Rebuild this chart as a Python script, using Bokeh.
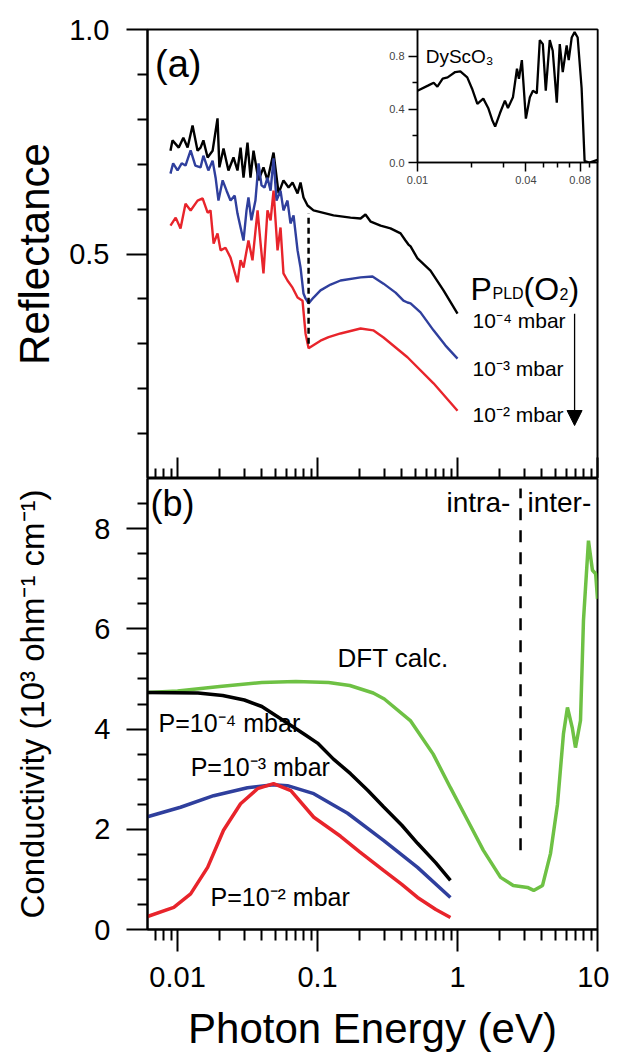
from bokeh.plotting import figure
from bokeh.layouts import column
from bokeh.models import Range1d, FixedTicker, Arrow, NormalHead
from bokeh.core.properties import value
from bokeh.embed import file_html
from bokeh.resources import INLINE

FONT = "Liberation Sans"

# ---------------- data: panel (a) reflectance ----------------
refl_black_e = [0.0089, 0.0092, 0.0102, 0.0110, 0.0118, 0.0128, 0.0139, 0.0146, 0.0153, 0.0164,
                0.0178, 0.0193, 0.0199, 0.0213, 0.0231, 0.0251, 0.0268, 0.0282, 0.0296, 0.0316,
                0.0332, 0.0349, 0.0379, 0.0411, 0.0439, 0.0485, 0.0527, 0.0571, 0.0621, 0.0663,
                0.0720, 0.0756, 0.0794, 0.0849, 0.0936, 0.130, 0.172, 0.203, 0.22, 0.24,
                0.282, 0.332, 0.392, 0.425, 0.446, 0.462, 0.518, 0.641, 0.794, 1.0]
refl_black = [0.730, 0.753, 0.737, 0.759, 0.737, 0.786, 0.730, 0.737, 0.753, 0.715,
              0.730, 0.802, 0.693, 0.735, 0.686, 0.715, 0.686, 0.737, 0.670, 0.748,
              0.670, 0.730, 0.664, 0.693, 0.664, 0.726, 0.635, 0.664, 0.648, 0.659,
              0.635, 0.659, 0.626, 0.608, 0.597, 0.586, 0.581, 0.579, 0.588, 0.572,
              0.563, 0.557, 0.546, 0.530, 0.521, 0.517, 0.490, 0.463, 0.419, 0.367]

refl_blue_e = [0.0089, 0.0093, 0.0100, 0.0107, 0.0114, 0.0124, 0.0134, 0.0146, 0.0153, 0.0166,
               0.0178, 0.0187, 0.0196, 0.0210, 0.0224, 0.0239, 0.0256, 0.0268, 0.0282, 0.0296,
               0.0311, 0.0321, 0.0337, 0.0360, 0.0379, 0.0398, 0.0418, 0.0439, 0.0462, 0.0485,
               0.0509, 0.0544, 0.0571, 0.0610, 0.0641, 0.0674, 0.0720, 0.0756, 0.0794, 0.0821,
               0.0863, 0.0936, 0.105, 0.124, 0.146, 0.203, 0.247, 0.296, 0.361, 0.411,
               0.439, 0.462, 0.544, 0.674, 0.821, 1.0]
refl_blue = [0.679, 0.702, 0.686, 0.702, 0.697, 0.731, 0.697, 0.693, 0.719, 0.686,
             0.708, 0.670, 0.619, 0.664, 0.641, 0.619, 0.630, 0.590, 0.559, 0.530,
             0.597, 0.626, 0.575, 0.619, 0.702, 0.653, 0.648, 0.670, 0.641, 0.713,
             0.619, 0.641, 0.597, 0.619, 0.568, 0.586, 0.508, 0.470, 0.412, 0.401,
             0.390, 0.403, 0.419, 0.432, 0.441, 0.448, 0.450, 0.434, 0.414, 0.396,
             0.392, 0.390, 0.370, 0.330, 0.296, 0.267]

refl_red_e = [0.0089, 0.0097, 0.0105, 0.0114, 0.0124, 0.0139, 0.0151, 0.0164, 0.0172, 0.0181,
              0.0193, 0.0203, 0.0220, 0.0239, 0.0268, 0.0282, 0.0296, 0.0321, 0.0343, 0.0373,
              0.0392, 0.0411, 0.0439, 0.0462, 0.0485, 0.0518, 0.0544, 0.0571, 0.0610, 0.0663,
              0.0720, 0.0781, 0.0821, 0.0863, 0.105, 0.12, 0.146, 0.203, 0.25, 0.296,
              0.439, 0.674, 1.0]
refl_red = [0.563, 0.581, 0.557, 0.612, 0.597, 0.619, 0.624, 0.592, 0.597, 0.523,
            0.546, 0.508, 0.514, 0.492, 0.437, 0.486, 0.470, 0.530, 0.486, 0.597,
            0.523, 0.457, 0.597, 0.575, 0.641, 0.508, 0.559, 0.457, 0.441, 0.425,
            0.403, 0.396, 0.323, 0.290, 0.307, 0.315, 0.323, 0.334, 0.330, 0.314,
            0.270, 0.212, 0.151]

# ---------------- data: inset DyScO3 ----------------
dy_e = [0.0100, 0.0115, 0.0123, 0.0129, 0.0138, 0.0147, 0.0162, 0.0173, 0.0189, 0.0201,
        0.0215, 0.0232, 0.0247, 0.0260, 0.0270, 0.0287, 0.0306, 0.0318, 0.0339, 0.0357,
        0.0366, 0.0380, 0.0400, 0.0421, 0.0438, 0.0460, 0.0478, 0.0497, 0.0516, 0.0543,
        0.0564, 0.0594, 0.0617, 0.0641, 0.0674, 0.0692, 0.0719, 0.0746, 0.0776, 0.0816,
        0.0848, 0.0903, 0.1000]
dy_r = [0.54, 0.58, 0.60, 0.57, 0.63, 0.64, 0.68, 0.685, 0.64, 0.555,
        0.44, 0.48, 0.41, 0.32, 0.27, 0.37, 0.465, 0.41, 0.49, 0.705,
        0.63, 0.77, 0.33, 0.49, 0.54, 0.52, 0.92, 0.89, 0.54, 0.92,
        0.84, 0.45, 0.89, 0.68, 0.88, 0.77, 0.94, 0.98, 0.94, 0.56,
        0.01, 0.0, 0.02]

# ---------------- data: panel (b) conductivity ----------------
dft_e = [0.0061, 0.01, 0.02, 0.04, 0.07, 0.12, 0.17, 0.25, 0.30, 0.46,
         0.67, 0.89, 1.18, 1.53, 2.03, 2.5, 3.16, 3.5, 4.05, 4.62,
         5.18, 5.71, 6.1, 6.6, 6.96, 7.56, 7.94, 8.62, 9.2, 9.7, 10.0]
dft_s = [4.73, 4.76, 4.85, 4.93, 4.95, 4.93, 4.87, 4.72, 4.60, 4.17,
         3.50, 2.83, 2.18, 1.58, 1.04, 0.88, 0.84, 0.78, 0.88, 1.52,
         2.50, 3.90, 4.43, 4.03, 3.63, 4.17, 6.17, 7.76, 7.17, 7.10, 6.60]

s4_e = [0.0061, 0.014, 0.021, 0.03, 0.04, 0.057, 0.08, 0.1, 0.13, 0.172,
        0.228, 0.296, 0.4, 0.518, 0.7, 0.89]
s4 = [4.73, 4.72, 4.67, 4.58, 4.45, 4.17, 3.90, 3.72, 3.40, 3.11,
      2.78, 2.45, 2.08, 1.72, 1.33, 0.98]

s3_e = [0.0061, 0.0105, 0.0181, 0.0316, 0.0485, 0.061, 0.094, 0.164, 0.296, 0.518, 0.89]
s3 = [2.25, 2.44, 2.67, 2.83, 2.89, 2.87, 2.71, 2.32, 1.78, 1.24, 0.64]

s2_e = [0.0061, 0.0094, 0.0124, 0.0164, 0.0213, 0.0282, 0.0373, 0.0485, 0.0645, 0.094,
        0.146, 0.2, 0.296, 0.4, 0.518, 0.7, 0.89]
s2 = [0.26, 0.44, 0.71, 1.24, 1.98, 2.51, 2.81, 2.91, 2.77, 2.24,
      1.86, 1.55, 1.18, 0.90, 0.64, 0.40, 0.24]

# ticks
x_major = [0.01, 0.1, 1, 10]
x_minor = [0.007, 0.008, 0.009,
           0.02, 0.03, 0.04, 0.05, 0.06, 0.07, 0.08, 0.09,
           0.2, 0.3, 0.4, 0.5, 0.6, 0.7, 0.8, 0.9,
           2, 3, 4, 5, 6, 7, 8, 9]
x_labels = {0.01: "0.01", 0.1: "0.1", 1: "1", 10: "10"}

BLACK = "#000000"
BLUE = "#2f3f9d"
RED = "#e8242b"
GREEN = "#6ec144"

LEFT = 147
x_range = Range1d(0.0061, 10)

common = dict(output_backend="svg", toolbar_location=None, x_axis_type="log",
              x_range=x_range, frame_width=450, min_border_left=LEFT, min_border_right=12)


def style_axis(ax, tick_out=21, minor_out=10, tick_in=0, minor_in=0):
    ax.axis_line_width = 2
    ax.axis_line_color = "black"
    ax.major_tick_line_width = 2
    ax.minor_tick_line_width = 2
    ax.major_tick_out = tick_out
    ax.major_tick_in = tick_in
    ax.minor_tick_out = minor_out
    ax.minor_tick_in = minor_in
    ax.major_label_text_font = FONT
    ax.major_label_text_font_size = "29px"
    ax.major_label_text_color = "black"
    ax.axis_label_text_font = FONT
    ax.axis_label_text_font_style = "normal"
    ax.axis_label_text_font_size = "42px"
    ax.axis_label_text_color = "black"


# ---------------- top panel ----------------
top = figure(y_range=Range1d(0, 1.0), frame_height=449, min_border_top=29,
             min_border_bottom=0, **common)
top.grid.visible = False
top.outline_line_color = "black"
top.outline_line_width = 2

xa = top.xaxis[0]
style_axis(xa, tick_out=0, minor_out=0, tick_in=21, minor_in=10)
xa.ticker = FixedTicker(ticks=x_major, minor_ticks=x_minor)
xa.major_label_text_font_size = "1px"
xa.major_label_text_alpha = 0
xa.major_label_standoff = 0

ya = top.yaxis[0]
style_axis(ya)
ya.ticker = FixedTicker(ticks=[0.5, 1.0], minor_ticks=[0.1, 0.2, 0.3, 0.4, 0.6, 0.7, 0.8, 0.9])
ya.major_label_overrides = {0.5: "0.5", 1: "1.0"}
ya.major_label_standoff = 17
ya.axis_label = "Reflectance"
ya.axis_label_standoff = 8

top.line(refl_black_e, refl_black, line_color=BLACK, line_width=2.4)
top.line(refl_blue_e, refl_blue, line_color=BLUE, line_width=2.4)
top.line(refl_red_e, refl_red, line_color=RED, line_width=2.4)
top.segment(x0=[0.0863], y0=[0.30], x1=[0.0863], y1=[0.59], line_color="black",
            line_width=2.5, line_dash="6 4")

top.text(x=[0.0069], y=[0.924], text=["(a)"], text_font=value(FONT), text_font_size="38px",
         text_align="left", text_baseline="middle", text_color="black")

# P_PLD(O2) label composed of pieces
px0 = 1.238
yb = 0.423
top.text(x=[px0], y=[yb], text=["P"], text_font=value(FONT), text_font_size="32px",
         text_baseline="alphabetic", text_align="left", text_color="black")
top.text(x=[px0], y=[yb], text=["PLD"], x_offset=22, y_offset=5, text_font=value(FONT),
         text_font_size="16px", text_baseline="alphabetic", text_align="left", text_color="black")
top.text(x=[px0], y=[yb], text=["(O"], x_offset=53, text_font=value(FONT), text_font_size="32px",
         text_baseline="alphabetic", text_align="left", text_color="black")
top.text(x=[px0], y=[yb], text=["2"], x_offset=89, y_offset=5, text_font=value(FONT),
         text_font_size="16px", text_baseline="alphabetic", text_align="left", text_color="black")
top.text(x=[px0], y=[yb], text=[")"], x_offset=98, text_font=value(FONT), text_font_size="32px",
         text_baseline="alphabetic", text_align="left", text_color="black")

top.text(x=[1.28, 1.28, 1.28], y=[0.352, 0.245, 0.1425],
         text=["10\u207b\u2074 mbar", "10\u207b\u00b3 mbar", "10\u207b\u00b2 mbar"],
         text_font=value(FONT), text_font_size="21px", text_align="left",
         text_baseline="middle", text_color="black")
top.add_layout(Arrow(end=NormalHead(size=15, fill_color="black", line_color="black"),
                     x_start=6.86, y_start=0.367, x_end=6.86, y_end=0.118,
                     line_width=1.3, line_color="black"))

# ---------------- bottom panel ----------------
bot = figure(y_range=Range1d(0, 9), frame_height=451, min_border_top=0,
             min_border_bottom=0, **common)
bot.grid.visible = False
bot.outline_line_color = "black"
bot.outline_line_width = 2

xb = bot.xaxis[0]
style_axis(xb, tick_out=22, minor_out=11)
xb.ticker = FixedTicker(ticks=x_major, minor_ticks=x_minor)
xb.major_label_overrides = x_labels
xb.major_label_standoff = 15
xb.axis_label = "Photon Energy (eV)"
xb.axis_label_standoff = 15

yb_ax = bot.yaxis[0]
style_axis(yb_ax)
yb_ax.ticker = FixedTicker(ticks=[0, 2, 4, 6, 8],
                           minor_ticks=[0.5, 1, 1.5, 2.5, 3, 3.5, 4.5, 5, 5.5, 6.5, 7, 7.5, 8.5])
yb_ax.major_label_standoff = 16
yb_ax.axis_label = "Conductivity (10\u00b3 ohm\u207b\u00b9 cm\u207b\u00b9)"
yb_ax.axis_label_text_font_size = "33px"
yb_ax.axis_label_standoff = 40

bot.line(dft_e, dft_s, line_color=GREEN, line_width=3.5)
bot.line(s4_e, s4, line_color=BLACK, line_width=3.5)
bot.line(s3_e, s3, line_color=BLUE, line_width=3.5)
bot.line(s2_e, s2, line_color=RED, line_width=3.5)
bot.segment(x0=[2.82], y0=[1.58], x1=[2.82], y1=[8.8], line_color="black",
            line_width=2.5, line_dash="12 10")

bot.text(x=[0.0064], y=[8.5], text=["(b)"], text_font=value(FONT), text_font_size="36px",
         text_align="left", text_baseline="middle", text_color="black")
bot.text(x=[0.834, 3.16], y=[8.52, 8.52], text=["intra-", "inter-"], text_font=value(FONT),
         text_font_size="28px", text_align="left", text_baseline="middle", text_color="black")
bot.text(x=[0.139], y=[5.41], text=["DFT calc."], text_font=value(FONT), text_font_size="26px",
         text_align="left", text_baseline="middle", text_color="black")
bot.text(x=[0.00731, 0.0124, 0.0172], y=[4.13, 3.25, 0.64],
         text=["P=10\u207b\u2074 mbar", "P=10\u207b\u00b3 mbar", "P=10\u207b\u00b2 mbar"],
         text_font=value(FONT), text_font_size="25px", text_align="left",
         text_baseline="middle", text_color="black")

# ---------------- inset ----------------
ins = figure(output_backend="svg", toolbar_location=None, x_axis_type="log",
             x_range=Range1d(0.01, 0.1), y_range=Range1d(0, 1.0),
             frame_width=180, frame_height=133, min_border_left=LEFT, min_border_right=12,
             min_border_top=0, min_border_bottom=30, border_fill_alpha=0,
             styles={"position": "absolute", "left": "270px", "top": "29px", "z-index": "10"})
ins.grid.visible = False
ins.outline_line_color = "black"
ins.outline_line_width = 1.5
for ax, ticks, minors, labels in [
        (ins.xaxis[0], [0.01, 0.04, 0.08], [0.02, 0.03, 0.05, 0.06, 0.07, 0.09],
         {0.01: "0.01", 0.04: "0.04", 0.08: "0.08"}),
        (ins.yaxis[0], [0, 0.4, 0.8], [0.2, 0.6], {0: "0.0", 0.4: "0.4", 0.8: "0.8"})]:
    ax.ticker = FixedTicker(ticks=ticks, minor_ticks=minors)
    ax.major_label_overrides = labels
    ax.axis_line_width = 1.5
    ax.major_tick_line_width = 1.5
    ax.minor_tick_line_width = 1.5
    ax.major_tick_out = 9
    ax.major_tick_in = 0
    ax.minor_tick_out = 5
    ax.minor_tick_in = 0
    ax.major_label_text_font = FONT
    ax.major_label_text_font_size = "11px"
    ax.major_label_text_color = "#444444"
    ax.major_label_standoff = 4
ins.line(dy_e, dy_r, line_color="black", line_width=2.3)
ins.text(x=[0.0111], y=[0.797], text=["DyScO\u2083"], text_font=value(FONT),
         text_font_size="19px", text_align="left", text_baseline="alphabetic",
         text_color="black")

layout = column(top, bot, ins, spacing=0)
open("out.html", "w").write(file_html(layout, INLINE))
